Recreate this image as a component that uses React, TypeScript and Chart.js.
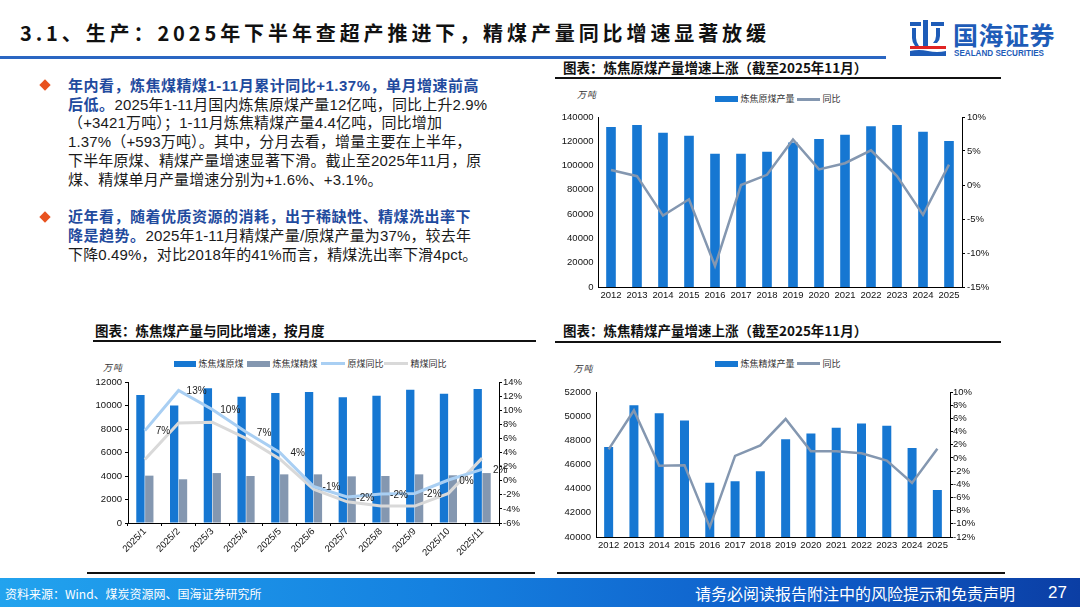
import React, { useEffect, useRef } from 'react';
import { Chart, registerables } from 'chart.js';

Chart.register(...registerables);

// ---------------- data ----------------
const YEARS = ['2012', '2013', '2014', '2015', '2016', '2017', '2018', '2019', '2020', '2021', '2022', '2023', '2024', '2025'];
const RAW_COAL_OUTPUT = [131800, 133400, 127100, 124600, 109800, 109800, 111400, 119000, 121900, 125400, 132300, 133400, 127900, 120200];
const RAW_COAL_YOY = [2.2, 1.3, -4.5, -2.1, -11.9, 0.0, 1.5, 6.7, 2.3, 3.2, 5.1, 1.3, -4.4, 3.0];
const CLEAN_COAL_OUTPUT = [47450, 50900, 50250, 49650, 44480, 44620, 45450, 48100, 48570, 49040, 49400, 49210, 47360, 43900];
const CLEAN_COAL_YOY = [1.3, 7.2, -1.2, -1.1, -10.5, 0.3, 1.9, 5.9, 1.0, 1.0, 0.7, -0.4, -3.8, 1.4];

const MONTHS = ['2025/1', '2025/2', '2025/3', '2025/4', '2025/5', '2025/6', '2025/7', '2025/8', '2025/9', '2025/10', '2025/11'];
const MONTHLY_RAW = [10890, 10010, 11460, 10750, 11060, 11150, 10700, 10840, 11350, 11010, 11400];
const MONTHLY_CLEAN = [4030, 3720, 4250, 4000, 4140, 4140, 3970, 4000, 4140, 4060, 4250];
const MONTHLY_RAW_YOY = [7.1, 12.8, 10.1, 6.9, 4.0, -0.8, -2.3, -1.9, -1.8, 0.1, 1.6];
const MONTHLY_CLEAN_YOY = [3.0, 8.2, 8.3, 6.0, 3.1, -1.2, -3.0, -3.6, -3.6, -1.8, 3.2];

// axis ranges (ticks generated by Chart.js from these)
const RAW_AXIS = { min: 0, max: 140000, step: 20000 };
const RAW_YOY_AXIS = { min: -15, max: 10, step: 5 };
const CLEAN_AXIS = { min: 40000, max: 52000, step: 2000 };
const CLEAN_YOY_AXIS = { min: -12, max: 10, step: 2 };
const MONTHLY_AXIS = { min: 0, max: 12000, step: 2000 };
const MONTHLY_YOY_AXIS = { min: -6, max: 14, step: 2 };

// series names
const NAME_RAW_ANNUAL = '炼焦原煤产量';
const NAME_CLEAN_ANNUAL = '炼焦精煤产量';
const NAME_YOY = '同比';
const NAME_M_RAW = '炼焦煤原煤';
const NAME_M_CLEAN = '炼焦煤精煤';
const NAME_M_RAW_YOY = '原煤同比';
const NAME_M_CLEAN_YOY = '精煤同比';

// ---------------- styles ----------------
const NUM_FONT = "'Liberation Sans', Arial, 'Noto Sans CJK SC', sans-serif";
const CJK_FONT = "'Noto Sans CJK SC', 'Liberation Sans', sans-serif";
const BODY_FONT = "'Liberation Sans', 'Noto Sans CJK SC', sans-serif";
const BAR_BLUE = '#1677D2';
const SLATE = '#8497B0';
const LIGHT_BLUE = '#A9CFF3';
const LIGHT_GRAY = '#D9D9D9';
const TEXT_BLUE = '#1F4B9E';

const tickFont = { family: NUM_FONT, size: 9.5 };

type Range = { min: number; max: number; step: number };
type Box = { left: number; top: number; width: number; height: number };

function yAxis(range: Range, side: 'left' | 'right', width: number, tick: number, pad: number, fmt: (v: number) => string) {
  return {
    type: 'linear',
    position: side,
    min: range.min,
    max: range.max,
    ticks: {
      stepSize: range.step,
      padding: pad,
      color: '#111',
      font: tickFont,
      autoSkip: false,
      callback: (v: any) => fmt(Number(v)),
    },
    grid: {
      display: tick > 0,
      drawOnChartArea: false,
      drawTicks: tick > 0,
      tickLength: tick,
      color: '#000',
      lineWidth: 1,
    },
    border: { display: true, color: '#000', width: 1 },
    afterFit: (s: any) => {
      s.width = width;
    },
  };
}

function annualConfig(
  bars: number[],
  yoy: number[],
  barName: string,
  barAxis: Range,
  yoyAxis: Range,
  d: { padTop: number; leftW: number; rightW: number; xH: number; leftPad: number; rTick: number; rPad: number; barPct: number }
) {
  return {
    type: 'bar',
    data: {
      labels: YEARS,
      datasets: [
        {
          type: 'line',
          label: NAME_YOY,
          data: yoy,
          yAxisID: 'y1',
          borderColor: SLATE,
          backgroundColor: SLATE,
          borderWidth: 2.5,
          pointRadius: 0,
          tension: 0,
          order: 0,
        },
        {
          type: 'bar',
          label: barName,
          data: bars,
          yAxisID: 'y',
          backgroundColor: BAR_BLUE,
          categoryPercentage: 1,
          barPercentage: d.barPct,
          order: 1,
        },
      ],
    },
    options: {
      responsive: false,
      animation: false,
      layout: { padding: { top: d.padTop, left: 0, right: 0, bottom: 0 } },
      plugins: { legend: { display: false }, tooltip: { enabled: false }, title: { display: false } },
      scales: {
        x: {
          grid: { display: false, drawTicks: false },
          border: { display: true, color: '#000', width: 1 },
          ticks: { color: '#111', font: tickFont, padding: 3, maxRotation: 0, minRotation: 0, autoSkip: false },
          afterFit: (s: any) => {
            s.height = d.xH;
          },
        },
        y: yAxis(barAxis, 'left', d.leftW, 0, d.leftPad, (v) => String(v)),
        y1: yAxis(yoyAxis, 'right', d.rightW, d.rTick, d.rPad, (v) => `${v}%`),
      },
    },
  };
}

const pctLabelPlugin = {
  id: 'pctLabels',
  afterDatasetsDraw(chart: any) {
    const idx = chart.data.datasets.findIndex((ds: any) => ds.label === NAME_M_RAW_YOY);
    if (idx < 0) return;
    const meta = chart.getDatasetMeta(idx);
    const values = chart.data.datasets[idx].data as number[];
    const ctx = chart.ctx;
    ctx.save();
    ctx.font = `10px ${NUM_FONT}`;
    ctx.fillStyle = '#222';
    ctx.textAlign = 'center';
    ctx.textBaseline = 'middle';
    meta.data.forEach((pt: any, i: number) => {
      const r = Math.round(values[i]);
      ctx.fillText(`${r === 0 ? 0 : r}%`, pt.x + 18, pt.y + 1);
    });
    ctx.restore();
  },
};

function monthlyConfig() {
  return {
    type: 'bar',
    data: {
      labels: MONTHS,
      datasets: [
        {
          type: 'line',
          label: NAME_M_RAW_YOY,
          data: MONTHLY_RAW_YOY,
          yAxisID: 'y1',
          borderColor: LIGHT_BLUE,
          backgroundColor: LIGHT_BLUE,
          borderWidth: 3,
          pointRadius: 0,
          tension: 0,
          order: 0,
        },
        {
          type: 'line',
          label: NAME_M_CLEAN_YOY,
          data: MONTHLY_CLEAN_YOY,
          yAxisID: 'y1',
          borderColor: LIGHT_GRAY,
          backgroundColor: LIGHT_GRAY,
          borderWidth: 3,
          pointRadius: 0,
          tension: 0,
          order: 0.5,
        },
        {
          type: 'bar',
          label: NAME_M_RAW,
          data: MONTHLY_RAW,
          yAxisID: 'y',
          backgroundColor: BAR_BLUE,
          categoryPercentage: 0.525,
          barPercentage: 0.94,
          order: 1,
        },
        {
          type: 'bar',
          label: NAME_M_CLEAN,
          data: MONTHLY_CLEAN,
          yAxisID: 'y',
          backgroundColor: SLATE,
          categoryPercentage: 0.525,
          barPercentage: 0.94,
          order: 1,
        },
      ],
    },
    options: {
      responsive: false,
      animation: false,
      layout: { padding: { top: 12, left: 0, right: 0, bottom: 0 } },
      plugins: { legend: { display: false }, tooltip: { enabled: false }, title: { display: false } },
      scales: {
        x: {
          grid: { display: true, drawOnChartArea: false, drawTicks: true, tickLength: 3, offset: true, color: '#000' },
          border: { display: true, color: '#000', width: 1 },
          ticks: { color: '#111', font: tickFont, padding: 0, maxRotation: 45, minRotation: 45, autoSkip: false },
          afterFit: (s: any) => {
            s.height = 42;
          },
        },
        y: yAxis(MONTHLY_AXIS, 'left', 38, 3, 3, (v) => String(v)),
        y1: yAxis(MONTHLY_YOY_AXIS, 'right', 41, 3, 1, (v) => `${v}%`),
      },
    },
    plugins: [pctLabelPlugin],
  };
}

function ChartCanvas({ box, build }: { box: Box; build: () => any }) {
  const ref = useRef<HTMLCanvasElement | null>(null);
  useEffect(() => {
    if (!ref.current) return;
    const chart = new Chart(ref.current, build());
    return () => chart.destroy();
  }, []);
  return (
    <canvas
      ref={ref}
      width={box.width}
      height={box.height}
      style={{ position: 'absolute', left: box.left, top: box.top, width: box.width, height: box.height }}
    />
  );
}

type LegendItem = { kind: 'rect' | 'line'; color: string; label: string; x: number; w: number };

function Legend({ items, y }: { items: LegendItem[]; y: number }) {
  return (
    <>
      {items.map((it, i) => (
        <React.Fragment key={i}>
          <div
            style={{
              position: 'absolute',
              left: it.x,
              top: y - (it.kind === 'rect' ? 3 : 1.5),
              width: it.w,
              height: it.kind === 'rect' ? 6 : 3,
              background: it.color,
            }}
          />
          <div
            style={{
              position: 'absolute',
              left: it.x + it.w + 2.5,
              top: y - 7,
              height: 14,
              lineHeight: '14px',
              fontSize: 9,
              fontFamily: CJK_FONT,
              color: '#333',
              whiteSpace: 'nowrap',
            }}
          >
            {it.label}
          </div>
        </React.Fragment>
      ))}
    </>
  );
}

function Abs({ x, y, children, style }: { x: number; y: number; children?: React.ReactNode; style?: React.CSSProperties }) {
  return <div style={{ position: 'absolute', left: x, top: y, whiteSpace: 'nowrap', ...style }}>{children}</div>;
}

const B = ({ children }: { children: React.ReactNode }) => (
  <span style={{ fontWeight: 700, color: TEXT_BLUE, letterSpacing: 0.5 }}>{children}</span>
);

function TextLine({ y, children }: { y: number; children: React.ReactNode }) {
  return (
    <Abs
      x={68}
      y={y - 9.5}
      style={{ height: 19, lineHeight: '19px', fontSize: 15, fontFamily: BODY_FONT, color: '#1a1a1a', letterSpacing: 0.15 }}
    >
      {children}
    </Abs>
  );
}

function Diamond({ y }: { y: number }) {
  return (
    <div
      style={{
        position: 'absolute',
        left: 40.5,
        top: y - 4,
        width: 8,
        height: 8,
        background: '#E8521F',
        transform: 'rotate(45deg)',
      }}
    />
  );
}

function ChartTitle({ x, y, text }: { x: number; y: number; text: string }) {
  return (
    <Abs x={x} y={y - 9} style={{ height: 18, lineHeight: '18px', fontSize: 13.5, fontWeight: 700, fontFamily: CJK_FONT, color: '#111' }}>
      {text}
    </Abs>
  );
}

function HLine({ x, y, w, h, color }: { x: number; y: number; w: number; h: number; color: string }) {
  return <div style={{ position: 'absolute', left: x, top: y, width: w, height: h, background: color }} />;
}

function Unit({ x, y }: { x: number; y: number }) {
  return (
    <Abs x={x} y={y - 6} style={{ height: 12, lineHeight: '12px', fontSize: 9, fontFamily: CJK_FONT, fontStyle: 'italic', color: '#333', letterSpacing: 1 }}>
      万吨
    </Abs>
  );
}

function Logo() {
  const c = '#1E5CB8';
  return (
    <>
      <svg style={{ position: 'absolute', left: 908, top: 18 }} width={42} height={40} viewBox="0 0 42 40">
        <rect x={2} y={4} width={11} height={4} fill={c} />
        <path d="M4 10 h4 v10 q0 4 3 8 h-4 q-3 -4 -3 -8 z" fill={c} />
        <rect x={15} y={2} width={5} height={26} fill={c} />
        <rect x={23} y={4} width={13} height={4} fill={c} />
        <path d="M28 10 h4 v8 q0 4 -3 7 h-4 q3 -3 3 -7 z" fill={c} />
        <rect x={2} y={28} width={36} height={3} fill="#E02424" />
        <path d="M2 33 q9 -2 18 0 t18 0 v5 h-36 z" fill={c} />
      </svg>
      <Abs x={953} y={19} style={{ height: 30, lineHeight: '30px', fontSize: 25, fontWeight: 700, fontFamily: CJK_FONT, color: c, letterSpacing: 0.5 }}>
        国海证券
      </Abs>
      <Abs
        x={954}
        y={48}
        style={{ height: 10, lineHeight: '10px', fontSize: 9, fontWeight: 700, fontFamily: NUM_FONT, color: c, transform: 'scaleX(0.9)', transformOrigin: 'left center' }}
      >
        SEALAND SECURITIES
      </Abs>
    </>
  );
}

export default function App() {
  return (
    <div style={{ position: 'relative', width: 1080, height: 607, overflow: 'hidden', background: '#fff' }}>
      <style>{'html,body{margin:0;padding:0;background:#fff;}'}</style>

      {/* header */}
      <Abs x={20} y={19} style={{ height: 28, lineHeight: '28px', fontSize: 20, fontWeight: 700, fontFamily: CJK_FONT, color: '#111', letterSpacing: 3.9 }}>
        3.1、生产：2025年下半年查超产推进下，精煤产量同比增速显著放缓
      </Abs>
      <HLine x={0} y={56} w={886} h={3} color="#2A66C2" />
      <Logo />

      {/* text block */}
      <Diamond y={85} />
      <TextLine y={85}>
        <B>年内看，炼焦煤精煤1-11月累计同比+1.37%，单月增速前高</B>
      </TextLine>
      <TextLine y={104}>
        <B>后低。</B>2025年1-11月国内炼焦原煤产量12亿吨，同比上升2.9%
      </TextLine>
      <TextLine y={122.7}>（+3421万吨）；1-11月炼焦精煤产量4.4亿吨，同比增加</TextLine>
      <TextLine y={141.5}>1.37%（+593万吨）。其中，分月去看，增量主要在上半年，</TextLine>
      <TextLine y={160.2}>下半年原煤、精煤产量增速显著下滑。截止至2025年11月，原</TextLine>
      <TextLine y={179}>煤、精煤单月产量增速分别为+1.6%、+3.1%。</TextLine>

      <Diamond y={216.5} />
      <TextLine y={216.5}>
        <B>近年看，随着优质资源的消耗，出于稀缺性、精煤洗出率下</B>
      </TextLine>
      <TextLine y={235.5}>
        <B>降是趋势。</B>2025年1-11月精煤产量/原煤产量为37%，较去年
      </TextLine>
      <TextLine y={254.5}>下降0.49%，对比2018年的41%而言，精煤洗出率下滑4pct。</TextLine>

      {/* chart 1: annual raw coal */}
      <ChartTitle x={563} y={66.7} text="图表：炼焦原煤产量增速上涨（截至2025年11月）" />
      <HLine x={555} y={77} w={446} h={2} color="#111" />
      <Unit x={577} y={94.5} />
      <Legend
        y={99}
        items={[
          { kind: 'rect', color: BAR_BLUE, label: NAME_RAW_ANNUAL, x: 715, w: 23 },
          { kind: 'line', color: SLATE, label: NAME_YOY, x: 797, w: 23 },
        ]}
      />
      <ChartCanvas
        box={{ left: 550, top: 105, width: 450, height: 205 }}
        build={() =>
          annualConfig(RAW_COAL_OUTPUT, RAW_COAL_YOY, NAME_RAW_ANNUAL, RAW_AXIS, RAW_YOY_AXIS, {
            padTop: 12,
            leftW: 48,
            rightW: 38,
            xH: 23,
            leftPad: 4.5,
            rTick: 3,
            rPad: 2,
            barPct: 0.37,
          })
        }
      />

      {/* chart 2: monthly */}
      <ChartTitle x={95} y={330} text="图表：炼焦煤产量与同比增速，按月度" />
      <HLine x={93} y={340} w={443} h={2} color="#111" />
      <Unit x={103} y={367.5} />
      <Legend
        y={363.5}
        items={[
          { kind: 'rect', color: BAR_BLUE, label: NAME_M_RAW, x: 174, w: 22 },
          { kind: 'rect', color: SLATE, label: NAME_M_CLEAN, x: 247, w: 23 },
          { kind: 'line', color: LIGHT_BLUE, label: NAME_M_RAW_YOY, x: 321, w: 24 },
          { kind: 'line', color: LIGHT_GRAY, label: NAME_M_CLEAN_YOY, x: 384, w: 24 },
        ]}
      />
      <ChartCanvas box={{ left: 90, top: 370, width: 450, height: 195 }} build={monthlyConfig} />
      <HLine x={87} y={572} w={448} h={2} color="#111" />

      {/* chart 3: annual clean coal */}
      <ChartTitle x={563} y={330} text="图表：炼焦精煤产量增速上涨（截至2025年11月）" />
      <HLine x={555} y={341} w={446} h={2} color="#111" />
      <Unit x={573.5} y={368.5} />
      <Legend
        y={363.5}
        items={[
          { kind: 'rect', color: BAR_BLUE, label: NAME_CLEAN_ANNUAL, x: 715, w: 23 },
          { kind: 'line', color: SLATE, label: NAME_YOY, x: 797, w: 23 },
        ]}
      />
      <ChartCanvas
        box={{ left: 550, top: 380, width: 450, height: 180 }}
        build={() =>
          annualConfig(CLEAN_COAL_OUTPUT, CLEAN_COAL_YOY, NAME_CLEAN_ANNUAL, CLEAN_AXIS, CLEAN_YOY_AXIS, {
            padTop: 12,
            leftW: 46,
            rightW: 50,
            xH: 23,
            leftPad: 5,
            rTick: 3,
            rPad: 0,
            barPct: 0.356,
          })
        }
      />
      <HLine x={557} y={572} w={448} h={2} color="#111" />

      {/* footer */}
      <div
        style={{
          position: 'absolute',
          left: 0,
          top: 578,
          width: 1080,
          height: 29,
          background: 'linear-gradient(90deg, #22A3EE 0%, #1581E0 40%, #0F5CC8 75%, #0B3EA4 100%)',
        }}
      />
      <Abs x={5} y={586} style={{ height: 15, lineHeight: '15px', fontSize: 12, fontFamily: CJK_FONT, color: '#fff' }}>
        资料来源：Wind、煤炭资源网、国海证券研究所
      </Abs>
      <Abs x={695} y={582} style={{ height: 22, lineHeight: '22px', fontSize: 16, fontFamily: CJK_FONT, color: '#fff' }}>
        请务必阅读报告附注中的风险提示和免责声明
      </Abs>
      <Abs x={1048} y={581} style={{ height: 24, lineHeight: '24px', fontSize: 17, fontFamily: NUM_FONT, color: '#fff' }}>
        27
      </Abs>
    </div>
  );
}
